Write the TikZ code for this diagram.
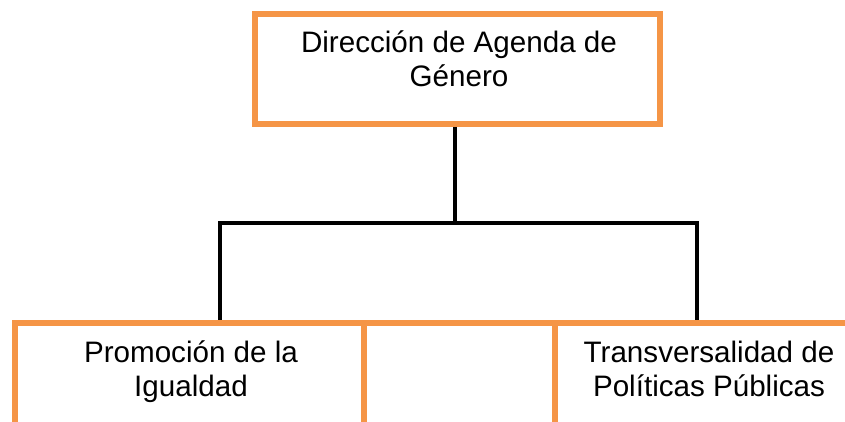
\documentclass[tikz,border=0pt]{standalone}
\usepackage{fontspec}
\setmainfont{Liberation Sans}
\definecolor{boxorange}{RGB}{245,149,70}
\begin{document}
\begin{tikzpicture}[x=1pt,y=-1pt,
  orangeline/.style={draw=boxorange,line width=6pt},
  conn/.style={draw=black,line width=4pt},
  lbl/.style={align=center,font=\fontsize{29.6}{34}\selectfont,inner sep=0pt}]
\useasboundingbox (0,0) rectangle (845,422);
\node[orangeline,minimum width=405pt,minimum height=110pt,inner sep=0pt] (top) at (457.5,69) {};
\node[lbl,anchor=base] (toptext) at (459,87) {Dirección de Agenda de\\Género};
% bottom open boxes
\coordinate (bl) at (12,323);
\coordinate (br) at (845,323);
\draw[orangeline] (bl) -- (br);
\draw[orangeline] (15,320) -- (15,425);
\draw[orangeline] (364,320) -- (364,425);
\draw[orangeline] (555,320) -- (555,425);
\node[lbl,anchor=base] (left) at (191,396) {Promoción de la\\Igualdad};
\node[lbl,anchor=base] (right) at (709,396) {Transversalidad de\\Políticas Públicas};
% connectors
\coordinate (j) at (455,223);
\coordinate (jl) at (220,223);
\coordinate (jr) at (697,223);
\coordinate (el) at (220,320);
\coordinate (er) at (697,320);
\draw[conn] (top.south -| j) -- (j);
\draw[conn] ([xshift=-2pt]jl) -- ([xshift=2pt]jr);
\draw[conn] ([yshift=-2pt]jl) -- (el);
\draw[conn] ([yshift=-2pt]jr) -- (er);
\end{tikzpicture}
\end{document}
